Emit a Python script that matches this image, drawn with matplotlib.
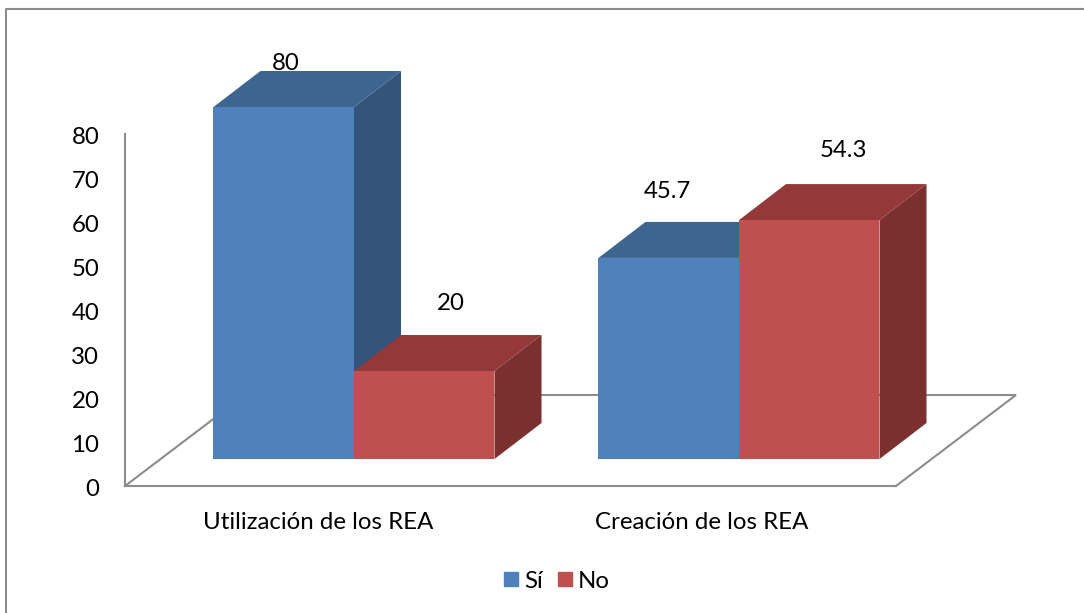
import matplotlib.pyplot as plt
from matplotlib.lines import Line2D
from matplotlib.patches import Patch
from matplotlib.transforms import ScaledTranslation

categories = ["Utilización de los REA", "Creación de los REA"]
si = [80, 45.7]
no = [20, 54.3]
series = ["Sí", "No"]
yticks = [0, 10, 20, 30, 40, 50, 60, 70, 80]

W, H = 1084, 613
plt.rcParams["font.family"] = ["Lato", "DejaVu Sans"]
FS = 17.3
GRAY = "#8c8c8c"

fig = plt.figure(figsize=(W / 100, H / 100), dpi=100)
# axes = front edge of the floor, in pixels of the reference
ax = fig.add_axes([125 / W, 1 - 486 / H, (896 - 125) / W, (486 - 134) / H])
ax.set_ylim(0, 80)
ax.set_xlim((125 - 354) / 385, (896 - 354) / 385)
ax.patch.set_alpha(0)

px_x = 1 / 385          # one pixel in category units
px_y = 80 / 352         # one pixel in value units
lift = 27 * px_y        # bars stand back from the floor edge
dx, dy = 47 * px_x, 36 * px_y
width = 140.5 * px_x

for s in ["top", "right"]:
    ax.spines[s].set_visible(False)
for s in ["left", "bottom"]:
    ax.spines[s].set_color(GRAY)
    ax.spines[s].set_linewidth(1.5)

ax.set_yticks(yticks)
ax.tick_params(axis="y", length=0, labelsize=FS, pad=18.5)
shift = ScaledTranslation(0, -1.2 / 72, fig.dpi_scale_trans)
for lab in ax.get_yticklabels():
    lab.set_transform(lab.get_transform() + shift)
ax.set_xticks([(318 - 354) * px_x, (702 - 354) * px_x])
ax.set_xticklabels(categories)
ax.tick_params(axis="x", length=0, labelsize=FS, pad=18.5)

# floor outline
x0, x1 = ax.get_xlim()
fx, fy = 120 * px_x, 91 * px_y
ax.plot([x0, x0 + fx, x1 + fx, x1], [0, fy, fy, 0], color=GRAY, lw=1.5,
        clip_on=False, zorder=1, solid_joinstyle="miter")

styles = [("#4F81BD", "#3E6490", "#33547B"), ("#C0504D", "#93393A", "#7B302F")]
offsets = [[(2, 44), (27, 68)], [(-1, 66), (34, 70)]]
z = 2
for i in range(len(categories)):
    for j, vals in enumerate([si, no]):
        v = vals[i]
        left = i + (j - 1) * width
        right = left + width
        top = lift + v
        front, roof, side = styles[j]
        ax.fill([right, right + dx, right + dx, right],
                [lift, lift + dy, top + dy, top], color=side, lw=0, clip_on=False, zorder=z)
        ax.fill([left, left + dx, right + dx, right],
                [top, top + dy, top + dy, top], color=roof, lw=0, clip_on=False, zorder=z)
        ax.bar(left, v, width=width, bottom=lift, align="edge", color=front, lw=0,
               clip_on=False, zorder=z)
        ax.annotate(f"{v:g}", (left + width / 2, top), xytext=(offsets[i][j][0] * 0.72, offsets[i][j][1] * 0.72),
                    textcoords="offset points", ha="center", va="center", fontsize=FS,
                    color="black", zorder=20, annotation_clip=False)
        z += 1

# outer frame, only the left and top edges are in the crop
fig.add_artist(Line2D([6 / W, 6 / W, 1], [0, 1 - 8.5 / H, 1 - 8.5 / H], color=GRAY, lw=1.5))

handles = [Patch(color=styles[0][0], label=series[0]), Patch(color=styles[1][0], label=series[1])]
fig.legend(handles=handles, loc="center", bbox_to_anchor=(557 / W, 1 - 581 / H), ncol=2, frameon=False,
           fontsize=FS, handlelength=0.56, handleheight=0.56, handletextpad=0.25, columnspacing=0.65)

fig.savefig("out.png", dpi=100)
